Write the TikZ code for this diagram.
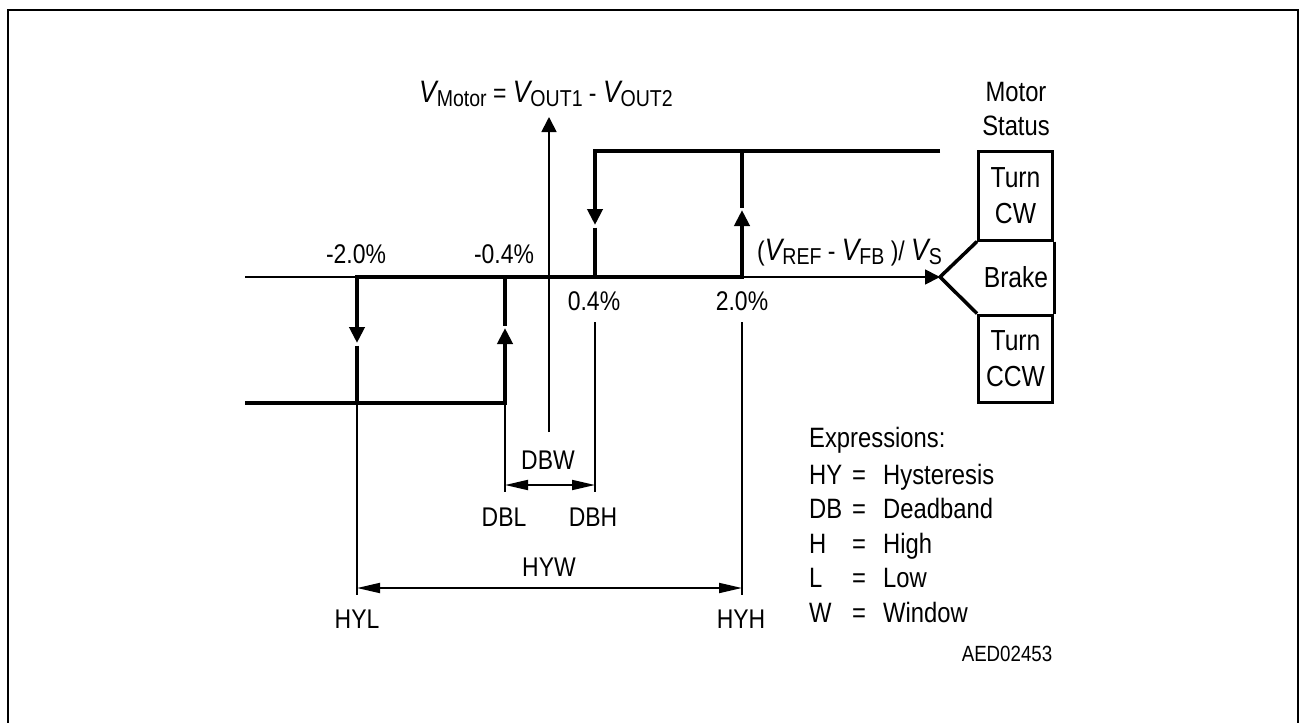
\documentclass[tikz,border=0pt]{standalone}
\usepackage{fontspec}
\setmainfont[FakeStretch=0.85]{Liberation Sans}
\usetikzlibrary{arrows.meta}
\newcommand\fs[1]{\fontsize{#1}{#1}\selectfont}
\newcommand\VV{{\fontsize{31}{31}\selectfont\itshape V}}
\newcommand\Sb[1]{\raisebox{-4.5pt}{\fontsize{23}{23}\selectfont #1}}
\begin{document}
\begin{tikzpicture}[x=1pt,y=-1pt,
  thk/.style={line width=4.2pt},
  thn/.style={line width=1.8pt},
  midtip/.style={-{Triangle[length=16pt,width=15pt]}},
  bothtip/.style={{Triangle[length=16pt,width=15pt]}-{Triangle[length=16pt,width=15pt]}},
  axtip/.style={-{Triangle[length=15pt,width=15pt]}},
  dimtip/.style={{Triangle[length=23pt,width=10pt]}-{Triangle[length=23pt,width=10pt]}},
  lab/.style={inner sep=0pt, font=\fs{27}, text height=19.3pt, text depth=0pt},
  blab/.style={inner sep=0pt, font=\fs{29}, text height=20.8pt, text depth=0pt},
  box/.style={draw, line width=3pt, minimum width=74pt, inner sep=0pt, align=center, font=\fontsize{29}{36}\selectfont},
]
\useasboundingbox (0,0) rectangle (1299,723);
% frame
\draw[line width=2.7pt] (8,740) -- (8,10) -- (1298,10) -- (1298,740);

% coordinates
\coordinate (axL) at (245,277);
\coordinate (tip) at (940,277);
\coordinate (vB) at (549,432);
\coordinate (vT) at (549,117);
\coordinate (loL) at (245,403);
\coordinate (a) at (357,277);
\coordinate (aT) at (357,343);
\coordinate (aR) at (357,345.5);
\coordinate (b) at (357,403);
\coordinate (c) at (505,403);
\coordinate (cT) at (505,328);
\coordinate (cR) at (505,325.5);
\coordinate (d) at (505,277);
\coordinate (e) at (595,277);
\coordinate (eT) at (595,225);
\coordinate (eR) at (595,227.5);
\coordinate (f) at (595,151);
\coordinate (g) at (742,151);
\coordinate (gT) at (742,210);
\coordinate (gR) at (742,207.5);
\coordinate (h) at (742,277);
\coordinate (hiR) at (940,151);
\coordinate (hyl) at (357,595);
\coordinate (hyhTop) at (742,322);
\coordinate (hyh) at (742,595);
\coordinate (dbl) at (505,492);
\coordinate (dbhTop) at (595,322);
\coordinate (dbh) at (595,492);
\coordinate (dbwL) at (505,485);
\coordinate (dbwR) at (595,485);
\coordinate (hywL) at (357,588);
\coordinate (hywR) at (742,588);

% axes
\draw[thn, axtip] (axL) -- (tip);
\draw[thn, axtip] (vB) -- (vT);

% hysteresis curve
\draw[thk, midtip] (hiR) -- (f) -- (eT);
\draw[thk] (eR) -- (e);
\draw[thk, bothtip] (gT) -- (h) -- (a) -- (aT);
\draw[thk] (gR) -- (g);
\draw[thk] (aR) -- (b);
\draw[thk, midtip] (loL) -- (c) -- (cT);
\draw[thk] (cR) -- (d);

% extension lines
\draw[thn] (b) -- (hyl);
\draw[thn] (hyhTop) -- (hyh);
\draw[thn] (c) -- (dbl);
\draw[thn] (dbhTop) -- (dbh);
\draw[thn, dimtip] (dbwL) -- (dbwR);
\draw[thn, dimtip] (hywL) -- (hywR);

% motor status boxes
\node[box, minimum height=89pt] (cw) at (1015.5,195.5) {Turn\\CW};
\node[box, minimum height=87pt] (ccw) at (1015.5,358.5) {Turn\\CCW};
\node[blab] (brk) at (1016,277) {Brake};
\draw[line width=3.5pt, line join=miter] (cw.south west) -- (tip) -- (ccw.north west);
\draw[line width=3pt] (cw.south east) -- (ccw.north east);
\node[lab, font=\fs{28}] (mot) at (1016,92) {Motor};
\node[lab, font=\fs{28}] (sta) at (1016,126) {Status};

% labels
\node[lab] (m20) at (356,254) {-2.0\%};
\node[lab] (m04) at (504,254) {-0.4\%};
\node[lab] (p04) at (594,301) {0.4\%};
\node[lab] (p20) at (742,301) {2.0\%};
\node[lab] (dbwl) at (548,460) {DBW};
\node[lab] (dbll) at (504,517) {DBL};
\node[lab] (dbhl) at (593,517) {DBH};
\node[lab] (hywl) at (549,567) {HYW};
\node[lab] (hyll) at (357,619) {HYL};
\node[lab] (hyhl) at (741,619) {HYH};

\node[inner sep=0pt, anchor=base west, font=\fs{27}] (vm) at (419,102)
  {\VV\Sb{Motor} = \VV\Sb{OUT1} - \VV\Sb{OUT2}};
\node[inner sep=0pt, anchor=base west, font=\fs{27}] (ratio) at (757,260)
  {(\VV\Sb{REF} - \VV\Sb{FB} )/ \VV\Sb{S}};

\node[inner sep=0pt, anchor=base west, font=\fontsize{28}{34.5}\selectfont] (expr) at (809,447)
  {\begin{tabular}[t]{@{}p{43pt}@{}p{31pt}@{}l@{}}
   \multicolumn{3}{@{}l@{}}{Expressions:}\\[2.5pt]
   HY & = & Hysteresis\\
   DB & = & Deadband\\
   H & = & High\\
   L & = & Low\\
   W & = & Window
   \end{tabular}};

\node[inner sep=0pt, font=\fs{22}, text height=15.75pt, text depth=0pt] (id) at (1007,653.5) {AED02453};
\end{tikzpicture}
\end{document}
